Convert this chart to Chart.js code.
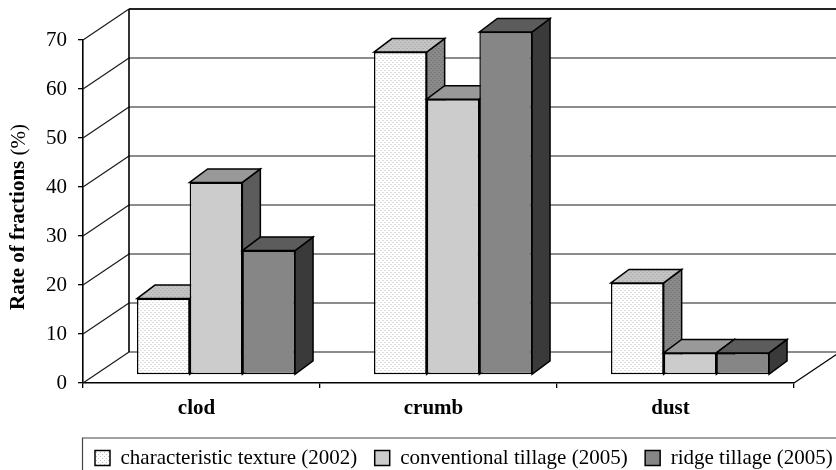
<!DOCTYPE html>
<html>
<head>
<meta charset="utf-8">
<style>
    html, body { margin: 0; padding: 0; background: #fff; overflow: hidden; }
    #box { width: 836px; height: 470px; }
</style>
<script src="https://cdn.jsdelivr.net/npm/chart.js@4"></script>
</head>
<body>
<div id="box"><canvas id="fractionsChart"></canvas></div>
<script>
const categories = ['clod', 'crumb', 'dust'];
const seriesNames = ['characteristic texture (2002)', 'conventional tillage (2005)', 'ridge tillage (2005)'];
const textureValues = [15.6, 65.9, 18.8];
const conventionalValues = [39.3, 56.3, 4.5];
const ridgeValues = [25.4, 70, 4.5];
const yTicks = [0, 10, 20, 30, 40, 50, 60, 70];

const SERIF = '"Liberation Serif", "Times New Roman", serif';
// wall depth and bar depth of the fake 3D box
const WALL = { dx: 46, dy: -31 };
const BAR = { dx: 18, dy: -13.5 };
const BAR_SHIFT = { dx: 14.5, dy: -8 };

function dotted(base, dot) {
    const tile = document.createElement('canvas');
    tile.width = 4;
    tile.height = 4;
    const c = tile.getContext('2d');
    c.fillStyle = base;
    c.fillRect(0, 0, 4, 4);
    c.fillStyle = dot;
    c.fillRect(0, 0, 1, 1);
    c.fillRect(2, 2, 1, 1);
    return c.createPattern(tile, 'repeat');
}

// front, top, side
const faces = [
    [dotted('#ffffff', '#c0c0c0'), dotted('#c4c4c4', '#a0a0a0'), dotted('#8a8a8a', '#666666')],
    ['#cccccc', '#999999', '#5c5c5c'],
    ['#868686', '#5c5c5c', '#3a3a3a']
];

function poly(ctx, points, fill) {
    ctx.beginPath();
    points.forEach((p, i) => i ? ctx.lineTo(p[0], p[1]) : ctx.moveTo(p[0], p[1]));
    ctx.closePath();
    ctx.fillStyle = fill;
    ctx.fill();
    ctx.stroke();
}

function line(ctx, x1, y1, x2, y2) {
    ctx.beginPath();
    ctx.moveTo(x1, y1);
    ctx.lineTo(x2, y2);
    ctx.stroke();
}

const box3d = {
    id: 'box3d',
    beforeDraw(chart) {
        // legend sits in its own frame under the axis, right edge pushed out so it stays on one row
        chart.legend.left = 77.5;
        chart.legend.right = chart.width + 40;
        chart.legend.top = 430;
    },
    beforeDatasetsDraw(chart) {
        const ctx = chart.ctx;
        const area = chart.chartArea;
        const yScale = chart.scales.y;
        const xBack = area.left + WALL.dx;
        const xEnd = chart.width + 10;

        ctx.save();
        ctx.strokeStyle = '#1a1a1a';
        ctx.lineWidth = 1.2;
        yTicks.forEach(v => {
            const y = yScale.getPixelForValue(v);
            line(ctx, area.left, y, xBack, y + WALL.dy);
            line(ctx, xBack, y + WALL.dy, xEnd, y + WALL.dy);
        });
        ctx.lineWidth = 1.6;
        ctx.strokeStyle = '#000';
        line(ctx, xBack, yScale.getPixelForValue(0) + WALL.dy, xBack, yScale.getPixelForValue(70) + WALL.dy);
        line(ctx, xBack, yScale.getPixelForValue(70) + WALL.dy, xEnd, yScale.getPixelForValue(70) + WALL.dy);
        ctx.lineWidth = 1.2;
        line(ctx, area.right, area.bottom, area.right + WALL.dx, area.bottom + WALL.dy);

        // left to right, so a later bar covers the side of the one before it
        ctx.translate(BAR_SHIFT.dx, BAR_SHIFT.dy);
        ctx.lineJoin = 'miter';
        chart.data.datasets.forEach((ds, s) => {
            chart.getDatasetMeta(s).data.forEach(bar => {
                const p = bar.getProps(['x', 'y', 'base', 'width'], true);
                const l = p.x - p.width / 2;
                const r = p.x + p.width / 2;
                ctx.strokeStyle = '#000';
                ctx.lineWidth = 1.5;
                poly(ctx, [[r, p.y], [r + BAR.dx, p.y + BAR.dy], [r + BAR.dx, p.base + BAR.dy], [r, p.base]], faces[s][2]);
                poly(ctx, [[l, p.y], [l + BAR.dx, p.y + BAR.dy], [r + BAR.dx, p.y + BAR.dy], [r, p.y]], faces[s][1]);
                bar.draw(ctx, area);
            });
        });
        ctx.restore();
        return false;
    },
    afterDraw(chart) {
        const ctx = chart.ctx;
        const area = chart.chartArea;
        ctx.save();

        // y axis title, bold words and a plain unit
        const bold = 'bold 21px ' + SERIF;
        const plain = '21px ' + SERIF;
        ctx.font = bold;
        const boldText = 'Rate of fractions';
        const w1 = ctx.measureText(boldText).width;
        ctx.font = plain;
        const unitText = ' (%)';
        const w2 = ctx.measureText(unitText).width;
        ctx.translate(19, 217);
        ctx.rotate(-Math.PI / 2);
        ctx.fillStyle = '#000';
        ctx.textBaseline = 'middle';
        ctx.textAlign = 'left';
        ctx.font = bold;
        ctx.fillText(boldText, -(w1 + w2) / 2, 0);
        ctx.font = plain;
        ctx.fillText(unitText, -(w1 + w2) / 2 + w1, 0);
        ctx.restore();

        // legend frame, cut off by the image edge on the right and below
        ctx.save();
        ctx.strokeStyle = '#444';
        ctx.lineWidth = 1.2;
        ctx.beginPath();
        ctx.moveTo(area.left - 0.5, chart.height + 2);
        ctx.lineTo(area.left - 0.5, 438);
        ctx.lineTo(chart.width + 2, 438);
        ctx.stroke();
        ctx.restore();
    }
};

const seriesValues = [textureValues, conventionalValues, ridgeValues];

new Chart(document.getElementById('fractionsChart').getContext('2d'), {
    type: 'bar',
    plugins: [box3d],
    data: {
        labels: categories,
        datasets: seriesNames.map((name, i) => ({
            label: name,
            data: seriesValues[i],
            backgroundColor: faces[i][0],
            borderColor: '#000',
            borderWidth: 1.5,
            borderSkipped: false,
            categoryPercentage: 0.667,
            barPercentage: 1
        }))
    },
    options: {
        responsive: true,
        maintainAspectRatio: false,
        animation: false,
        layout: { padding: { top: 40, right: 42, left: 0, bottom: 0 } },
        plugins: {
            tooltip: { enabled: false },
            legend: {
                position: 'bottom',
                align: 'start',
                labels: {
                    color: '#000',
                    font: { family: SERIF, size: 21 },
                    boxWidth: 15,
                    boxHeight: 15,
                    padding: 17.5
                }
            }
        },
        scales: {
            x: {
                afterFit(scale) { scale.height = 38.5; },
                grid: { drawOnChartArea: false, color: '#000', lineWidth: 1.3, tickLength: 5 },
                border: { color: '#000', width: 1.6 },
                ticks: {
                    color: '#000',
                    font: { family: SERIF, size: 21, weight: 'bold' },
                    padding: 8,
                    labelOffset: -5,
                    maxRotation: 0
                }
            },
            y: {
                min: 0,
                max: 70,
                afterFit(scale) { scale.width = 83; },
                grid: { drawOnChartArea: false, color: '#000', lineWidth: 1.3, tickLength: 5 },
                border: { color: '#000', width: 1.6 },
                ticks: {
                    color: '#000',
                    stepSize: 10,
                    font: { family: SERIF, size: 21 },
                    padding: 11
                }
            }
        }
    }
});
</script>
</body>
</html>
